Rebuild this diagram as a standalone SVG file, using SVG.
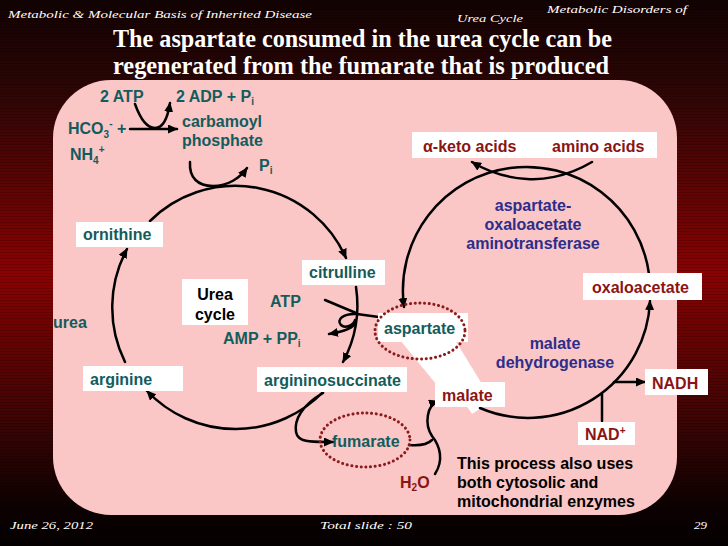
<svg xmlns="http://www.w3.org/2000/svg" width="728" height="546" viewBox="0 0 728 546">
<defs>
<linearGradient id="bg" x1="0" y1="0" x2="0" y2="1">
<stop offset="0" stop-color="#120202"/>
<stop offset="0.18" stop-color="#300606"/>
<stop offset="0.5" stop-color="#8a0202"/>
<stop offset="0.8" stop-color="#340404"/>
<stop offset="0.93" stop-color="#0c0101"/>
<stop offset="1" stop-color="#050000"/>
</linearGradient>
<pattern id="stripes" width="4" height="3" patternUnits="userSpaceOnUse">
<rect width="4" height="1" fill="#000" fill-opacity="0.18"/>
</pattern>
<marker id="ah" markerUnits="userSpaceOnUse" markerWidth="10" markerHeight="9" refX="9" refY="4.5" orient="auto">
<path d="M0,0 L10,4.5 L0,9 z" fill="#000"/>
</marker>
<marker id="ahs" markerUnits="userSpaceOnUse" markerWidth="8" markerHeight="7" refX="7" refY="3.5" orient="auto">
<path d="M0,0 L8,3.5 L0,7 z" fill="#000"/>
</marker>
</defs>
<style>
.hdr{font-family:"Liberation Serif","DejaVu Serif",serif;font-style:italic;fill:#fff;font-size:11px}
.ttl{font-family:"Liberation Serif","Times New Roman",serif;font-weight:bold;fill:#fff;font-size:25px}
.t{font-family:"Liberation Sans",Arial,sans-serif;font-weight:bold;font-size:16px}
.teal{fill:#135c5c}
.red{fill:#8b1414}
.blue{fill:#2d2d8a}
.blk{fill:#000}
.box{fill:#fff}
.ln{fill:none;stroke:#000;stroke-width:2.5;stroke-linecap:round}
.dot{fill:none;stroke:#8b1a1a;stroke-width:3;stroke-dasharray:0.1 4.6;stroke-linecap:round}
.sub{font-size:10px}
</style>
<rect width="728" height="546" fill="url(#bg)"/>
<rect width="728" height="546" fill="url(#stripes)"/>
<rect x="53" y="80" width="624" height="435" rx="58" ry="58" fill="#fac6c6"/>

<text class="hdr" x="8" y="18" textLength="304" lengthAdjust="spacingAndGlyphs">Metabolic &amp; Molecular Basis of Inherited Disease</text>
<text class="hdr" x="547" y="13" textLength="140" lengthAdjust="spacingAndGlyphs">Metabolic Disorders of</text>
<text class="hdr" x="457" y="22" textLength="66" lengthAdjust="spacingAndGlyphs">Urea Cycle</text>
<text class="ttl" x="113" y="47" textLength="499" lengthAdjust="spacingAndGlyphs">The aspartate consumed in the urea cycle can be</text>
<text class="ttl" x="113" y="74" textLength="496" lengthAdjust="spacingAndGlyphs">regenerated from the fumarate that is produced</text>
<text class="hdr" x="10" y="529" textLength="83" lengthAdjust="spacingAndGlyphs">June 26, 2012</text>
<text class="hdr" x="320" y="529" textLength="92" lengthAdjust="spacingAndGlyphs">Total slide :  50</text>
<text class="hdr" x="694" y="529" textLength="13" lengthAdjust="spacingAndGlyphs">29</text>

<!-- white callout shapes -->
<polygon points="400,340 455,340 482,384 436,384" fill="#fff"/>
<polygon points="466,405 486,405 472,414" fill="#fff"/>

<g id="connectors">
<path class="ln" d="M135,104 C140,118 147,128 155,128 C164,128 168,116 170,103" marker-end="url(#ah)"/>
<path class="ln" d="M130,129 L177,129" marker-end="url(#ah)"/>
<path class="ln" d="M190,162 C189,178 198,186 213,186 C228,186 240,178 247,168" marker-end="url(#ah)"/>
<path class="ln" d="M150,221 A121,121 0 0 1 346,258" marker-end="url(#ah)"/>
<path class="ln" d="M356,287 A121,121 0 0 1 343,362" marker-end="url(#ah)"/>
<path class="ln" d="M324,391 A122,122 0 0 1 147,391" marker-end="url(#ah)"/>
<path class="ln" d="M125,362 A123,123 0 0 1 127,249" marker-end="url(#ah)"/>
<path class="ln" d="M325,300 L356,313"/>
<path class="ln" d="M357,314 L386,318" marker-end="url(#ahs)"/>
<path class="ln" d="M357,314 C343,313 336,320 341,325 C345,329 354,325 355,320 M355,324 C350,330 340,332 329,334" marker-end="url(#ah)"/>
<path class="ln" d="M649,274 A122,122 0 0 0 404,307" marker-end="url(#ah)"/>
<path class="ln" d="M480,408 A122,122 0 0 0 650,301" marker-end="url(#ah)"/>
<path class="ln" d="M614,382 L645,382" marker-end="url(#ah)"/>
<path class="ln" d="M602,421 L602,394"/>
<path class="ln" d="M592,162 C565,178 540,180 527,179 C510,178 490,173 472,162" marker-end="url(#ah)"/>
<path class="ln" d="M323,393 C302,405 294,420 296,432 C298,443 312,442 333,442" marker-end="url(#ah)"/>
<path class="ln" d="M409,445 C420,446 428,444 432,440"/>
<path class="ln" d="M435,474 C444,460 440,446 432,436 C424,424 427,405 438,401" marker-end="url(#ah)"/>
</g>

<g id="reactants">
<text class="t teal" x="100" y="102">2 ATP</text>
<text class="t teal" x="176" y="102">2 ADP + P<tspan class="sub" dy="3">i</tspan></text>
<text class="t teal" x="68" y="134">HCO<tspan class="sub" dy="4">3</tspan><tspan class="sub" dy="-11">-</tspan><tspan dy="7"> +</tspan></text>
<text class="t teal" x="70" y="160">NH<tspan class="sub" dy="4">4</tspan><tspan class="sub" dy="-11">+</tspan></text>
<text class="t teal" x="259" y="171">P<tspan class="sub" dy="3">i</tspan></text>
<text class="t teal" x="53" y="328">urea</text>
<text class="t teal" x="270" y="307">ATP</text>
<text class="t teal" x="223" y="344">AMP + PP<tspan class="sub" dy="3">i</tspan></text>
<text class="t red" x="400" y="488">H<tspan class="sub" dy="3">2</tspan><tspan dy="-3">O</tspan></text>
</g>

<g id="carbamoyl-phosphate">
<text class="t teal" x="182" y="127">carbamoyl</text>
<text class="t teal" x="182" y="146">phosphate</text>
</g>
<g id="ornithine"><rect class="box" x="76" y="222" width="87" height="25"/><text class="t teal" x="83" y="240">ornithine</text></g>
<g id="citrulline"><rect class="box" x="302" y="260" width="83" height="25"/><text class="t teal" x="309" y="278">citrulline</text></g>
<g id="urea-cycle"><rect class="box" x="182" y="279" width="66" height="46"/><text class="t blk" x="215" y="300" text-anchor="middle">Urea</text><text class="t blk" x="215" y="320" text-anchor="middle">cycle</text></g>
<g id="arginine"><rect class="box" x="83" y="366" width="100" height="25"/><text class="t teal" x="90" y="385">arginine</text></g>
<g id="argininosuccinate"><rect class="box" x="257" y="367" width="150" height="25"/><text class="t teal" x="264" y="386">argininosuccinate</text></g>
<g id="fumarate"><ellipse class="dot" cx="365" cy="440" rx="45" ry="27"/><text class="t teal" x="332" y="447">fumarate</text></g>
<g id="aspartate"><rect class="box" x="378" y="313" width="90" height="29"/><ellipse class="dot" cx="420" cy="331" rx="45" ry="28"/><text class="t teal" x="384" y="334">aspartate</text></g>
<g id="malate"><rect class="box" x="435" y="382" width="70" height="25"/><text class="t red" x="442" y="401">malate</text></g>
<g id="oxaloacetate"><rect class="box" x="583" y="273" width="119" height="27"/><text class="t red" x="592" y="293">oxaloacetate</text></g>
<g id="NADH"><rect class="box" x="645" y="369" width="63" height="26"/><text class="t red" x="652" y="389">NADH</text></g>
<g id="NAD"><rect class="box" x="578" y="422" width="57" height="23"/><text class="t red" x="585" y="440">NAD<tspan class="sub" dy="-6">+</tspan></text></g>
<g id="keto-amino"><rect class="box" x="412" y="132" width="245" height="26"/><text class="t red" x="423" y="152">α-keto acids</text><text class="t red" x="552" y="152">amino acids</text></g>
<g id="aminotransferase">
<text class="t blue" x="533" y="211" text-anchor="middle">aspartate-</text>
<text class="t blue" x="533" y="230" text-anchor="middle">oxaloacetate</text>
<text class="t blue" x="533" y="249" text-anchor="middle">aminotransferase</text>
</g>
<g id="malate-dehydrogenase">
<text class="t blue" x="555" y="349" text-anchor="middle">malate</text>
<text class="t blue" x="555" y="368" text-anchor="middle">dehydrogenase</text>
</g>
<g id="note">
<text class="t blk" x="457" y="469">This process also uses</text>
<text class="t blk" x="457" y="488">both cytosolic and</text>
<text class="t blk" x="457" y="507">mitochondrial enzymes</text>
</g>
</svg>
